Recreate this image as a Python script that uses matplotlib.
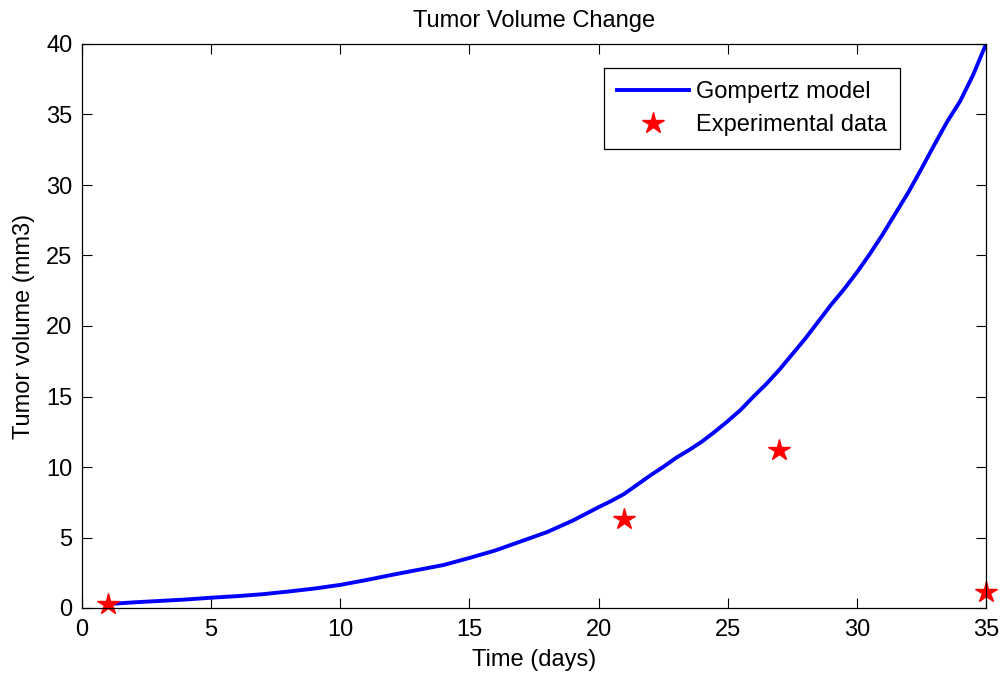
import numpy as np
import matplotlib
matplotlib.use("Agg")
import matplotlib.pyplot as plt

# Gompertz model curve
days = [1, 2, 3, 4, 5, 6, 7, 8, 9, 10, 11, 12, 13, 14, 15, 16, 17, 18, 19,
        20, 20.5, 21, 21.5, 22, 22.5, 23, 23.5, 24, 24.5, 25, 25.5, 26, 26.5,
        27, 27.5, 28, 28.5, 29, 29.5, 30, 30.5, 31, 31.5, 32, 32.5, 33, 33.5,
        34, 34.5, 35]
model_volume = [0.28, 0.40, 0.50, 0.60, 0.73, 0.84, 0.98, 1.17, 1.38, 1.64,
                1.98, 2.35, 2.70, 3.05, 3.55, 4.08, 4.73, 5.38, 6.20,
                7.15, 7.6, 8.1, 8.75, 9.4, 10.0, 10.65, 11.2, 11.8, 12.5,
                13.25, 14.05, 15.0, 15.9, 16.9, 18.0, 19.1, 20.3, 21.5, 22.6,
                23.8, 25.1, 26.5, 28.0, 29.5, 31.15, 32.85, 34.5, 35.95, 37.8,
                40.0]

# experimental measurements
exp_days = [1, 21, 27, 35]
exp_volume = [0.3, 6.3, 11.2, 1.1]

xticks = [0, 5, 10, 15, 20, 25, 30, 35]
yticks = [0, 5, 10, 15, 20, 25, 30, 35, 40]

plt.rcParams['font.family'] = ['Liberation Sans', 'DejaVu Sans']
plt.rcParams['font.size'] = 17

fig = plt.figure(figsize=(10.03, 6.76), dpi=100)
ax = fig.add_axes([82 / 1003, 1 - 608 / 676, 904 / 1003, 564 / 676])

ax.plot(days, model_volume, color='#0000ff', lw=2.8, label='Gompertz model')
ax.plot(exp_days, exp_volume, linestyle='none', marker='*', color='red',
        markersize=16, label='Experimental data', clip_on=False)

ax.set_xlim(0, 35)
ax.set_ylim(0, 40)
ax.set_xticks(xticks)
ax.set_yticks(yticks)
ax.tick_params(direction='in', length=7, width=0.8, top=True, right=True,
               colors='black')
ax.tick_params(axis='x', pad=8)
ax.tick_params(axis='y', pad=7)
for s in ax.spines.values():
    s.set_linewidth(0.9)

ax.set_title('Tumor Volume Change', fontsize=17, pad=12)
ax.set_xlabel('Time (days)', labelpad=6)
ax.set_ylabel('Tumor volume (mm3)', labelpad=8)

leg = ax.legend(loc='upper right', bbox_to_anchor=(0.905, 0.957),
                fancybox=False, edgecolor='black', framealpha=1,
                handlelength=3.05, borderpad=0.55, labelspacing=0.45,
                handletextpad=0.3, numpoints=1, borderaxespad=0)
leg.get_frame().set_linewidth(0.9)

fig.savefig('out.png', dpi=100)
